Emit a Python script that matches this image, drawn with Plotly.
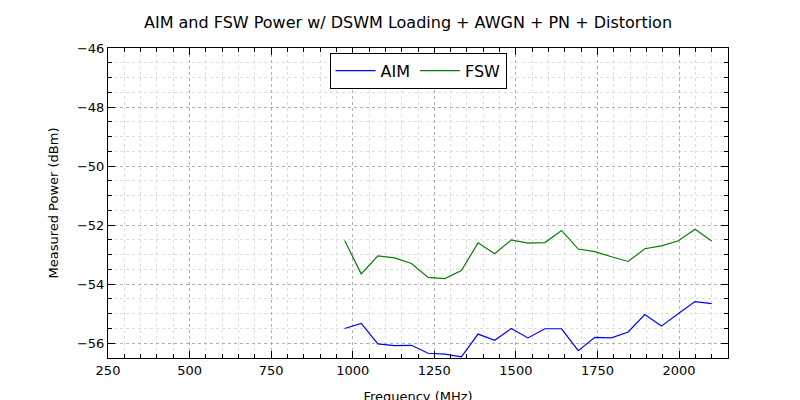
import plotly.graph_objects as go

freq = [975, 1026, 1077, 1128, 1180, 1231, 1282, 1333, 1384, 1435, 1486, 1537,
        1589, 1640, 1691, 1742, 1793, 1844, 1895, 1946, 1998, 2049, 2100]
aim = [-55.50, -55.33, -56.02, -56.08, -56.07, -56.34, -56.37, -56.46, -55.69, -55.90, -55.50, -55.82,
       -55.51, -55.51, -56.25, -55.80, -55.82, -55.62, -55.03, -55.42, -54.99, -54.59, -54.66]
fsw = [-52.52, -53.65, -53.04, -53.11, -53.30, -53.77, -53.81, -53.54, -52.60, -52.97, -52.50, -52.61,
       -52.59, -52.18, -52.81, -52.90, -53.07, -53.23, -52.80, -52.70, -52.53, -52.14, -52.54]

fig = go.Figure()
fig.add_trace(go.Scatter(x=freq, y=aim, mode="lines", name="AIM", line=dict(color="blue", width=1.2)))
fig.add_trace(go.Scatter(x=freq, y=fsw, mode="lines", name="FSW", line=dict(color="green", width=1.2)))

grid = dict(showgrid=True, gridcolor="#b0b0b0", griddash="dot", gridwidth=1,
            showline=True, linecolor="black", linewidth=1, mirror="ticks",
            ticks="inside", ticklen=7, tickcolor="black", zeroline=False, automargin=False,
            tickfont=dict(size=13, color="black"), title_font=dict(size=13))
fig.update_xaxes(range=[250, 2150], dtick=250, tick0=250, title_text="Frequency (MHz)",
                 minor=dict(dtick=50, ticks="inside", ticklen=4, showgrid=True,
                            gridcolor="#dcdcdc", griddash="dot"), **grid)
fig.update_yaxes(range=[-56.5, -46], dtick=2, tick0=-56, title_text="Measured Power (dBm)",
                 tickformat="d", minor=dict(dtick=0.5, ticks="inside", ticklen=4, showgrid=True,
                                            gridcolor="#dcdcdc", griddash="dot"), **grid)
fig.update_layout(
    width=800, height=400,
    paper_bgcolor="white", plot_bgcolor="white",
    font=dict(family="DejaVu Sans", size=13, color="black"),
    title=dict(text="AIM and FSW Power w/ DSWM Loading + AWGN + PN + Distortion",
               x=0.5, xanchor="center", y=0.965, yanchor="middle", font=dict(size=16)),
    margin=dict(l=100, r=80, t=40, b=50, autoexpand=False),
    showlegend=True,
    legend=dict(orientation="h", x=0.5, xanchor="center", y=0.985, yanchor="top",
                bordercolor="black", borderwidth=1, bgcolor="white", font=dict(size=16),
                itemwidth=40),
)
fig.write_html("out.html")
